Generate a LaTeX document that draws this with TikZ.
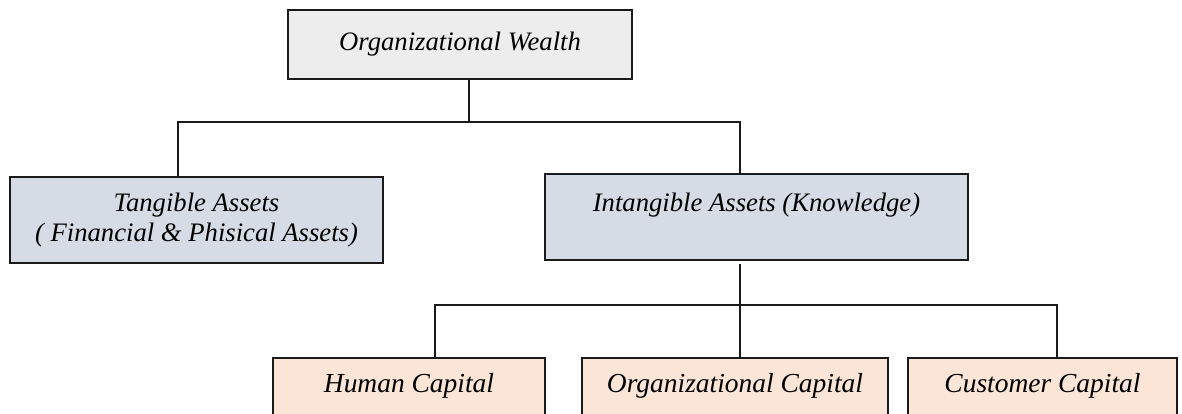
\documentclass[tikz,border=0pt]{standalone}
\usepackage{fontspec}
\setmainfont{Liberation Serif}
\definecolor{greyfill}{HTML}{EDEDED}
\definecolor{bluefill}{HTML}{D6DCE5}
\definecolor{peachfill}{HTML}{FBE5D6}
\definecolor{edge}{HTML}{1A1A1A}
\begin{document}
\begin{tikzpicture}[x=0.75pt, y=-0.75pt,
  box/.style={draw=edge, line width=1.3pt, inner xsep=0pt, inner ysep=0pt,
    align=center, font=\fontsize{20pt}{22.5pt}\selectfont\itshape},
  topbox/.style={box, text height=28.3pt, text depth=36.2pt, anchor=north},
  capbox/.style={box, fill=peachfill, text height=26pt, text depth=60pt, anchor=north,
    font=\fontsize{20.6pt}{22.5pt}\selectfont\itshape},
  link/.style={draw=edge, line width=1.1pt}]
\useasboundingbox (0,0) rectangle (1182,414);
\clip (0,0) rectangle (1182,414);

% level 0
\node[box, fill=greyfill, minimum width=258pt, minimum height=51.75pt]
  (wealth) at (460,44.5) {Organizational Wealth};

% level 1
\node[box, fill=bluefill, minimum width=279.75pt, minimum height=64.5pt]
  (tangible) at (196.5,220) {Tangible Assets\\( Financial \& Phisical Assets)};
\node[topbox, fill=bluefill, minimum width=317.25pt]
  (intangible) at (756.5,173) {Intangible Assets (Knowledge)};

% level 2
\node[capbox, minimum width=204pt] (human) at (409,357) {Human Capital};
\node[capbox, minimum width=229.5pt] (orgcap) at (735,357) {Organizational Capital};
\node[capbox, minimum width=201.75pt] (customer) at (1042.5,357) {Customer Capital};

% junctions of the connectors
\coordinate (j1) at (469,122);
\coordinate (b1l) at (178,122);
\coordinate (b1r) at (740,122);
\coordinate (j2) at (740,264);
\coordinate (b2l) at (435,305);
\coordinate (b2r) at (1057,305);

\draw[link] (wealth.south -| j1) -- (j1);
\draw[link] (tangible.north -| b1l) -- (b1l) -- (b1r) -- (intangible.north -| b1r);
\draw[link] (j2) -- (orgcap.north -| j2);
\draw[link] (human.north -| b2l) -- (b2l) -- (b2r) -- (customer.north -| b2r);
\end{tikzpicture}
\end{document}
